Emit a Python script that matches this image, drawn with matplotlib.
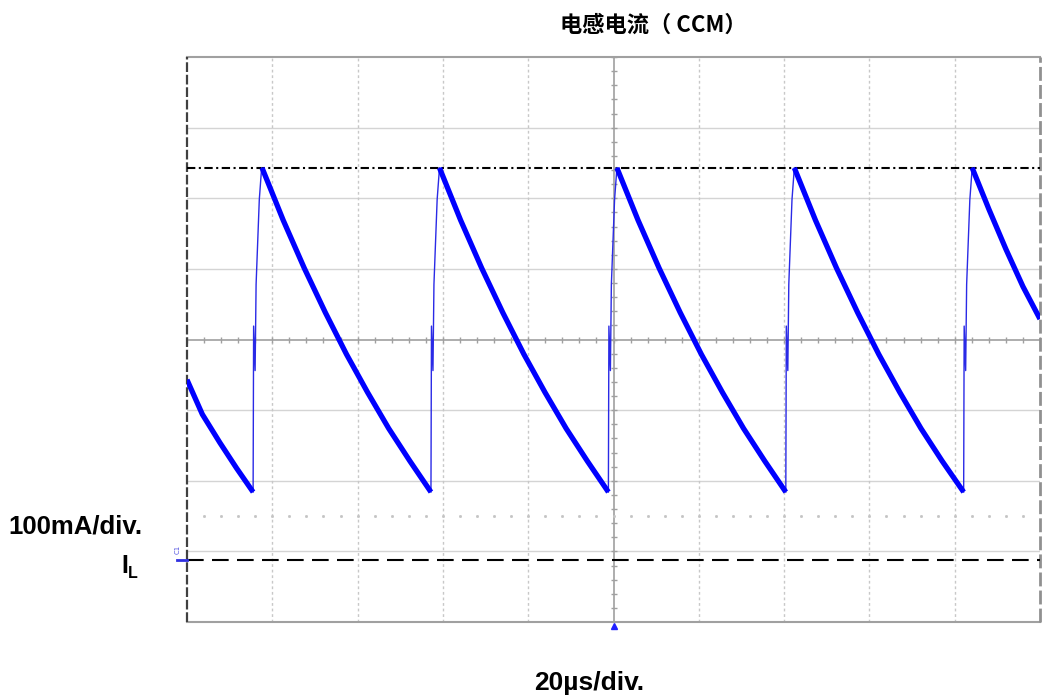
import matplotlib
matplotlib.use('Agg')
import matplotlib.pyplot as plt
import numpy as np

plt.rcParams['lines.scale_dashes'] = False

# scope settings (µs/div, mA/div), current measured from the IL ground marker
US_PER_DIV = 20
MA_PER_DIV = 100
CENTER_MA = 312      # centre line of the screen
PEAK_MA = 555        # dash-dot cursor at the peak
DOT_ROW_MA = 62      # faint dotted row

# falling ramps of the inductor current (µs, mA)
fall_t = [
    [0.0, 3.6, 7.7, 11.6, 15.5],
    [17.6, 22.55, 27.5, 32.45, 37.4, 42.35, 47.3, 52.25, 57.2],
    [59.2, 64.15, 69.1, 74.05, 79.0, 83.95, 88.9, 93.85, 98.8],
    [100.8, 105.75, 110.7, 115.65, 120.6, 125.55, 130.5, 135.45, 140.4],
    [142.4, 147.35, 152.3, 157.25, 162.2, 167.15, 172.1, 177.05, 182.1],
    [184.1, 188.05, 192.0, 196.0, 200.0],
]
fall_i = [
    [255, 206, 166, 130, 96],
    [555, 481, 413, 350, 291, 237, 186, 140, 96],
    [555, 481, 413, 350, 291, 237, 186, 140, 96],
    [555, 481, 413, 350, 291, 237, 186, 140, 96],
    [555, 481, 413, 350, 291, 237, 186, 140, 96],
    [555, 496, 440, 387, 341],
]

# switching edges: valley times, then time after valley / current
valley_t = [15.5, 57.2, 98.8, 140.4, 182.1]
rise_dt = [0.0, 0.12, 0.47, 0.7, 1.45, 2.0]
rise_i = [96, 331, 268, 390, 510, 555]

W, H = 1043, 698
fig = plt.figure(figsize=(W / 100, H / 100), dpi=100)
ax = fig.add_axes([187 / W, 76 / H, 853 / W, 565 / H])

x0, x1 = 0, 10 * US_PER_DIV
y0, y1 = CENTER_MA - 4 * MA_PER_DIV, CENTER_MA + 4 * MA_PER_DIV
ax.set_xlim(x0, x1)
ax.set_ylim(y0, y1)
ax.set_xticks([])
ax.set_yticks([])
for s in ax.spines.values():
    s.set_visible(False)

# graticule
for k in (-3, -2, -1, 1, 2, 3):
    ax.axhline(CENTER_MA + k * MA_PER_DIV, color='#d4d4d4', lw=1.0, zorder=1)
for k in range(1, 10):
    if k == 5:
        continue
    ax.axvline(k * US_PER_DIV, color='#c8c8c8', lw=1.0, ls=(0, (2, 2)), zorder=1)
ax.axhline(CENTER_MA, color='#a0a0a0', lw=1.2, zorder=1)
ax.axvline(5 * US_PER_DIV, color='#a0a0a0', lw=1.2, zorder=1)

minor_x = np.arange(x0, x1 + 0.01, US_PER_DIV / 5)
minor_y = np.arange(y0, y1 + 0.01, MA_PER_DIV / 5)
ax.plot(minor_x, np.full_like(minor_x, CENTER_MA), ls='none', marker='|',
        ms=5, mew=1.0, color='#a0a0a0', zorder=1)
ax.plot(np.full_like(minor_y, 5 * US_PER_DIV), minor_y, ls='none', marker='_',
        ms=5, mew=1.0, color='#a0a0a0', zorder=1)
ax.plot(minor_x[1:-1], np.full(len(minor_x) - 2, DOT_ROW_MA), ls='none',
        marker='s', ms=1.0, color='#c4c4c4', zorder=1)

# frame
ax.plot([x0, x1], [y1, y1], color='#a0a0a0', lw=1.5, clip_on=False, zorder=2)
ax.plot([x0, x1], [y0, y0], color='#a0a0a0', lw=1.5, clip_on=False, zorder=2)
ax.plot([x0, x0], [y0, y1], color='#404040', lw=1.6, ls=(0, (7, 2)),
        clip_on=False, zorder=2)
ax.plot([x1, x1], [y0, y1], color='#909090', lw=2.0, ls=(0, (10, 3)),
        clip_on=False, zorder=2)

# cursors
ax.axhline(PEAK_MA, color='black', lw=1.5, ls=(0, (6, 2.5, 1.5, 2.5)), zorder=3)
ax.axhline(0, color='black', lw=1.5, ls=(0, (12, 6)), zorder=3)

# trace
for t, i in zip(fall_t, fall_i):
    ax.plot(t, i, color='#0000ff', lw=3.8, solid_capstyle='butt',
            solid_joinstyle='round', zorder=5)
for tv in valley_t:
    ax.plot(tv + np.array(rise_dt), rise_i, color='#2a2ae6', lw=1.0, zorder=4)

# channel ground marker and trigger position
ax.plot([x0 - 2.4, x0], [0, 0], color='#3030e0', lw=2.0, clip_on=False, zorder=6)
ax.text(x0 - 2.1, 8, 'C1', color='#5050e0', fontsize=5, rotation=90,
        ha='center', va='bottom', clip_on=False)
ax.plot([5 * US_PER_DIV], [y0 - 5], marker='^', ms=5, color='#2020ff',
        clip_on=False, zorder=6)

# labels
fig.text(653 / W, 1 - 25 / H, '电感电流（ CCM）', ha='center', va='center',
         fontsize=16, fontweight='bold',
         family=['Noto Sans CJK SC', 'DejaVu Sans'])
fig.text(8 / W, 1 - 526 / H, '100mA/div.', ha='left', va='center',
         fontsize=18.5, fontweight='bold', family='Liberation Sans')
fig.text(121 / W, 1 - 566 / H, 'I', ha='left', va='center',
         fontsize=18, fontweight='bold', family='Liberation Sans')
fig.text(128 / W, 1 - 574 / H, 'L', ha='left', va='center',
         fontsize=11.5, fontweight='bold', family='Liberation Sans')
fig.text(589 / W, 1 - 683 / H, '20µs/div.', ha='center', va='center',
         fontsize=19, fontweight='bold', family='Liberation Sans')

fig.savefig('out.png', dpi=100)
